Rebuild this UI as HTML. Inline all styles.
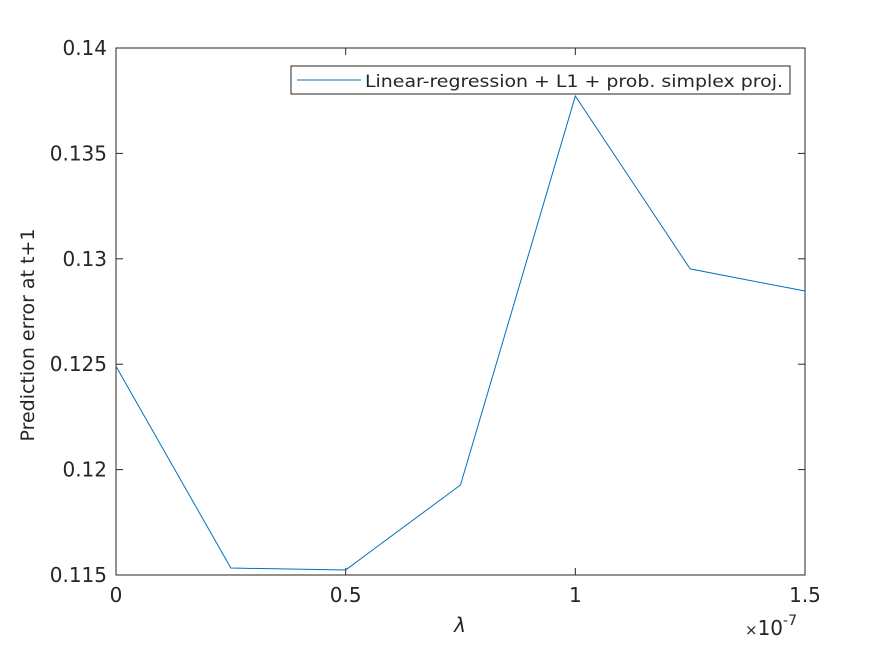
<!DOCTYPE html>
<html><head><meta charset="utf-8"><style>
body{margin:0;background:#fff;}
svg text{font-family:"DejaVu Sans","Liberation Sans",sans-serif;fill:#262626;}
</style></head><body>
<svg width="891" height="645" viewBox="0 0 891 645" xmlns="http://www.w3.org/2000/svg">
<rect width="891" height="645" fill="#fff"/>
<g id="axes"></g>
<polyline id="series" fill="none" stroke="#0072bd" stroke-width="1"/>
<g>
<rect x="291" y="66" width="499" height="28" fill="#fff" stroke="#262626" stroke-width="1"/>
<line x1="297" y1="80" x2="361" y2="80" stroke="#0072bd" stroke-width="1"/>
<text x="365" y="87" font-size="17" textLength="418" lengthAdjust="spacingAndGlyphs">Linear-regression + L1 + prob. simplex proj.</text>
</g>
<text x="460" y="632" font-size="20" font-style="italic" font-family="DejaVu Serif,serif" text-anchor="middle">λ</text>
<text x="745" y="635" font-size="20"><tspan font-size="15">×</tspan>10<tspan font-size="14" dy="-10">-7</tspan></text>
<text transform="translate(34,335) rotate(-90)" font-size="19" text-anchor="middle">Prediction error at t+1</text>
</svg>
<script>
const xValues=[0,0.25,0.5,0.75,1.0,1.25,1.5];
const yValues=[0.1249,0.11533,0.11524,0.11927,0.13772,0.12952,0.12847];
const xTicks=[0,0.5,1,1.5];
const xTickLabels=["0","0.5","1","1.5"];
const yTicks=[0.115,0.12,0.125,0.13,0.135,0.14];
const yTickLabels=["0.115","0.12","0.125","0.13","0.135","0.14"];
const L=116,R=805,T=48,B=575;
const sx=v=>L+(v-0)/(1.5-0)*(R-L);
const sy=v=>B-(v-0.115)/(0.14-0.115)*(B-T);
const NS="http://www.w3.org/2000/svg";
const g=document.getElementById('axes');
function mk(tag,attrs){const e=document.createElementNS(NS,tag);for(const k in attrs)e.setAttribute(k,attrs[k]);g.appendChild(e);return e;}
const box=mk('rect',{x:L,y:T,width:R-L,height:B-T,fill:'none',stroke:'#262626','stroke-width':1});


xTicks.forEach((v,i)=>{const x=sx(v);
mk('line',{x1:x,y1:B,x2:x,y2:B-7,stroke:'#262626'});
mk('line',{x1:x,y1:T,x2:x,y2:T+7,stroke:'#262626'});
const t=mk('text',{x:x,y:602,'font-size':20,'text-anchor':'middle'});t.textContent=xTickLabels[i];

});
yTicks.forEach((v,i)=>{const y=sy(v);
mk('line',{x1:L,y1:y,x2:L+7,y2:y,stroke:'#262626'});
mk('line',{x1:R,y1:y,x2:R-7,y2:y,stroke:'#262626'});
const t=mk('text',{x:107,y:y+7,'font-size':20,'text-anchor':'end'});t.textContent=yTickLabels[i];

});
document.getElementById('series').setAttribute('points',xValues.map((x,i)=>sx(x)+','+sy(yValues[i])).join(' '));
</script>
</body></html>
